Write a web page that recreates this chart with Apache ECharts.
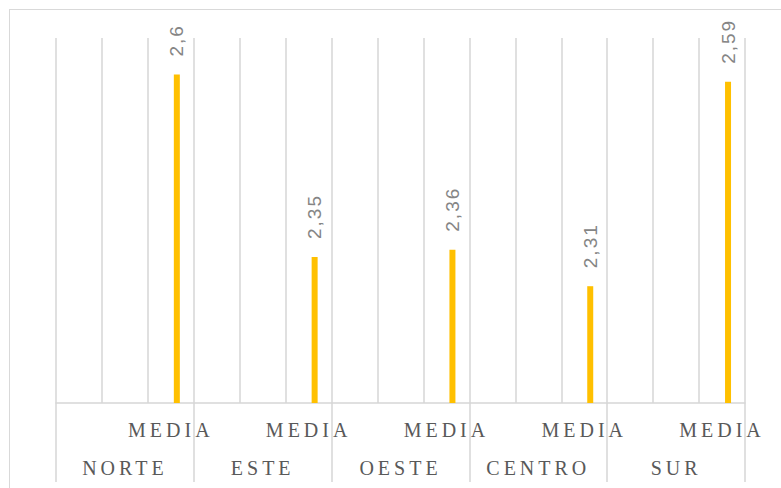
<!DOCTYPE html>
<html>
<head>
<meta charset="utf-8">
<script src="https://cdn.jsdelivr.net/npm/echarts@6/dist/echarts.min.js"></script>
<style>
  body { margin: 0; background: #fff; }
  .wrap { position: relative; width: 781px; height: 488px; overflow: hidden; }
  .frame {
    position: absolute; left: 9px; top: 9px; width: 900px; height: 900px;
    border: 1px solid #d9d9d9; box-sizing: border-box;
  }
  #chart { position: absolute; left: 0; top: 0; width: 781px; height: 488px; }
  /* excel style spaced capitals */
  #chart text[style*="Liberation Serif"] { letter-spacing: 4px; }
  #chart text[style*="Liberation Sans"] { letter-spacing: 2px; }
</style>
</head>
<body>
<div class="wrap">
  <div class="frame"></div>
  <div id="chart"></div>
</div>
<script>
// regions and sub labels (3 slots per region, only the last one labelled)
var groups = ['NORTE', 'ESTE', 'OESTE', 'CENTRO', 'SUR']
var subLabels = ['', '', 'MEDIA']
var mediaValues = [2.6, 2.35, 2.36, 2.31, 2.59]

var categories = []
var emptyData = []
var mediaData = []
groups.forEach(function (g, i) {
  subLabels.forEach(function (s, j) {
    categories.push(s)
    emptyData.push('-')
    mediaData.push(j === subLabels.length - 1 ? mediaValues[i] : '-')
  })
})

var gridColor = '#d6d6d6'
var myChart = echarts.init(document.getElementById('chart'), null, { renderer: 'svg' })

var option = {
  animation: false,
  grid: { left: 56, right: 36, top: 38, bottom: 85 },
  xAxis: [
    {
      type: 'category',
      position: 'bottom',
      data: categories,
      axisLine: { show: true, lineStyle: { color: gridColor, width: 1.5 } },
      axisTick: { show: false },
      splitLine: { show: true, interval: 0, lineStyle: { color: gridColor, width: 1.5 } },
      axisLabel: {
        interval: 0,
        margin: 17,
        fontFamily: 'Liberation Serif',
        fontSize: 20,
        color: '#595959'
      }
    },
    {
      type: 'category',
      position: 'bottom',
      offset: 0,
      data: groups,
      axisLine: { show: false },
      axisTick: { show: true, interval: 0, length: 79, lineStyle: { color: gridColor, width: 1.5 } },
      splitLine: { show: false },
      axisLabel: {
        interval: 0,
        margin: 55,
        fontFamily: 'Liberation Serif',
        fontSize: 20,
        color: '#595959'
      }
    }
  ],
  yAxis: {
    type: 'value',
    min: 2.15,
    max: 2.65,
    show: false
  },
  series: [
    { type: 'bar', xAxisIndex: 0, barWidth: 6, barGap: '0%', data: emptyData },
    { type: 'bar', xAxisIndex: 0, barWidth: 6, barGap: '0%', data: emptyData },
    {
      type: 'bar',
      xAxisIndex: 0,
      barWidth: 6,
      barGap: '0%',
      itemStyle: { color: '#ffc000' },
      label: {
        show: true,
        position: 'top',
        rotate: 90,
        align: 'left',
        verticalAlign: 'middle',
        distance: 18,
        fontFamily: 'Liberation Sans',
        fontSize: 19,
        color: '#858585',
        formatter: function (p) {
          return String(p.value).replace('.', ',')
        }
      },
      data: mediaData
    }
  ]
}
myChart.setOption(option)
</script>
</body>
</html>
